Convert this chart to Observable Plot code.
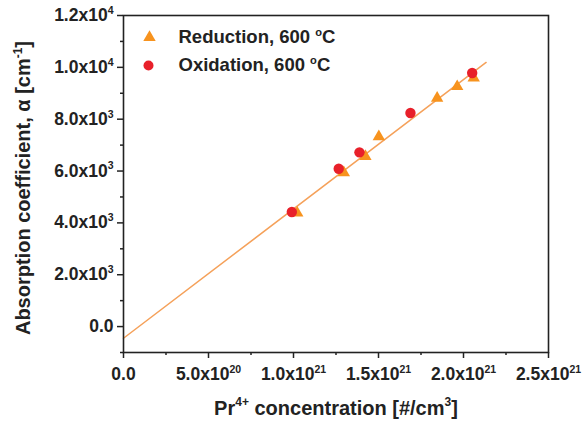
<!DOCTYPE html>
<html>
<head>
<meta charset="utf-8">
<script src="https://cdn.jsdelivr.net/npm/d3@7"></script>
<script src="https://cdn.jsdelivr.net/npm/@observablehq/plot@0.6"></script>
<style>
  html, body { margin: 0; padding: 0; background: #fff; }
  #chart { width: 583px; height: 423px; }
</style>
</head>
<body>
<div id="chart"></div>
<script>
// ---- data ----
const oxX = [0.99e21, 1.266e21, 1.388e21, 1.688e21, 2.051e21];
const oxY = [4420, 6090, 6720, 8240, 9780];
const redX = [1.022e21, 1.296e21, 1.423e21, 1.502e21, 1.845e21, 1.963e21, 2.060e21];
const redY = [4380, 5940, 6560, 7330, 8810, 9260, 9590];
const fitX = [0, 2.133e21];
const fitY = [-450, 10190];

const seriesNames = ["Reduction, 600 ^{o}C", "Oxidation, 600 ^{o}C"];
const xTicks = [0, 5e20, 1e21, 1.5e21, 2e21, 2.5e21];
const xMinor = [2.5e20, 7.5e20, 1.25e21, 1.75e21, 2.25e21];
const yTicks = [0, 2000, 4000, 6000, 8000, 10000, 12000];
const yMinor = [-1000, 1000, 3000, 5000, 7000, 9000, 11000];
const xTitle = "Pr^{4+} concentration [#/cm^{3}]";
const yTitle = "Absorption coefficient, \u03b1 [cm^{-1}]";

// ---- tables built from the arrays ----
const ox = oxX.map((x, i) => ({x, y: oxY[i]}));
const red = redX.map((x, i) => ({x, y: redY[i]}));
const fit = fitX.map((x, i) => ({x, y: fitY[i]}));

const ORANGE = "#f7931e";
const RED = "#e8202a";
const LINE = "#f5a15a";
const INK = "#222";

function fmt(v) {
  if (v === 0) return "0.0";
  const e = Math.floor(Math.log10(Math.abs(v)) + 1e-9);
  const m = v / Math.pow(10, e);
  return m.toFixed(1) + "x10^{" + e + "}";
}
const blank = () => "";

const chart = Plot.plot({
  width: 583,
  height: 423,
  marginLeft: 123,
  marginRight: 35,
  marginTop: 15,
  marginBottom: 71,
  style: {fontFamily: "'Liberation Sans', Arial, sans-serif", fontSize: "17.5px", fontWeight: "bold", color: INK, background: "#fff"},
  x: {domain: [0, 2.5e21]},
  y: {domain: [-1000, 12000]},
  marks: [
    Plot.axisX(xTicks, {tickSize: 6, tickPadding: 9, tickFormat: fmt, stroke: INK, strokeWidth: 1.5, label: null}),
    Plot.axisX(xMinor, {tickSize: 3, tickFormat: blank, stroke: INK, strokeWidth: 1.5, label: null}),
    Plot.axisY(yTicks, {tickSize: 6, tickPadding: 4, tickFormat: fmt, stroke: INK, strokeWidth: 1.5, label: null}),
    Plot.axisY(yMinor, {tickSize: 3, tickFormat: blank, stroke: INK, strokeWidth: 1.5, label: null}),
    Plot.line(fit, {x: "x", y: "y", stroke: LINE, strokeWidth: 1.5}),
    Plot.dot(red, {x: "x", y: "y", symbol: "triangle", r: 4.6, fill: ORANGE, stroke: "none"}),
    Plot.dot(ox, {x: "x", y: "y", symbol: "circle", r: 5.2, fill: RED, stroke: "none"}),
    Plot.frame({stroke: INK, strokeWidth: 1.6}),
    // legend
    Plot.dot([seriesNames[0]], {frameAnchor: "top-left", dx: 26, dy: 22, symbol: "triangle", r: 4.6, fill: ORANGE, stroke: "none"}),
    Plot.dot([seriesNames[1]], {frameAnchor: "top-left", dx: 25, dy: 50, symbol: "circle", r: 5.0, fill: RED, stroke: "none"}),
    Plot.text([seriesNames[0]], {text: d => d, frameAnchor: "top-left", dx: 55, dy: 22, textAnchor: "start", lineAnchor: "middle", fontSize: 18.5, fill: INK}),
    Plot.text([seriesNames[1]], {text: d => d, frameAnchor: "top-left", dx: 55, dy: 50, textAnchor: "start", lineAnchor: "middle", fontSize: 18.5, fill: INK}),
    // axis titles
    Plot.text([xTitle], {text: d => d, frameAnchor: "bottom", dy: 62, lineAnchor: "bottom", textAnchor: "middle", fontSize: 20, fill: INK}),
    Plot.text([yTitle], {text: d => d, frameAnchor: "left", dx: -100, dy: 4, rotate: -90, textAnchor: "middle", lineAnchor: "middle", fontSize: 20, fill: INK})
  ]
});

document.getElementById("chart").appendChild(chart);

// turn ^{...} into real superscript tspans
const NS = "http://www.w3.org/2000/svg";
chart.querySelectorAll("text").forEach(t => {
  const s = t.textContent;
  if (!s.includes("^{")) return;
  const fs = parseFloat(getComputedStyle(t).fontSize) || 17;
  const parts = s.split(/\^\{([^}]*)\}/);
  while (t.firstChild) t.removeChild(t.firstChild);
  const shift = fs * 0.42;
  let raised = false;
  parts.forEach((p, i) => {
    if (p === "") return;
    const ts = document.createElementNS(NS, "tspan");
    ts.textContent = p;
    if (i % 2 === 1) {
      ts.setAttribute("font-size", (fs * 0.6).toFixed(1));
      if (!raised) { ts.setAttribute("dy", (-shift).toFixed(1)); raised = true; }
    } else if (raised) {
      ts.setAttribute("dy", shift.toFixed(1));
      raised = false;
    }
    t.appendChild(ts);
  });
});
</script>
</body>
</html>
